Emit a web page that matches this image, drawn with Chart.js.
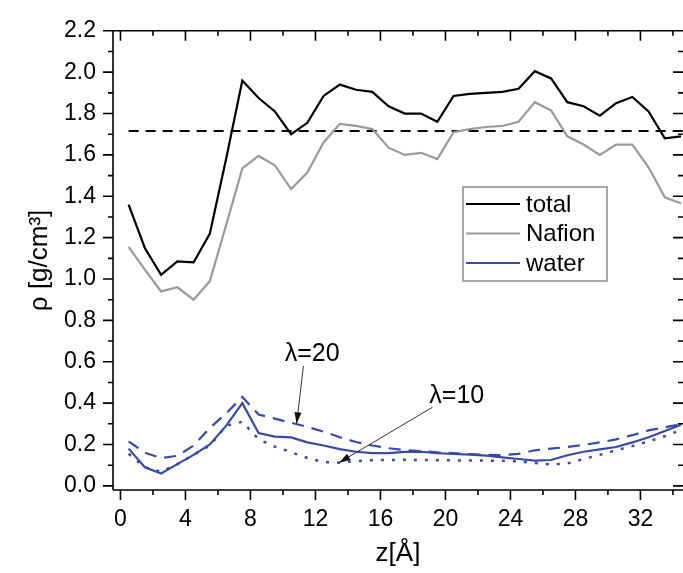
<!DOCTYPE html>
<html>
<head>
<meta charset="utf-8">
<script src="https://cdn.jsdelivr.net/npm/chart.js@4.4.0/dist/chart.umd.min.js"></script>
<style>
  html, body { margin: 0; padding: 0; background: #fff; overflow: hidden; }
  #wrap { width: 683px; height: 573px; }
</style>
</head>
<body>
<div id="wrap"><canvas id="diagramm" width="683" height="573"></canvas></div>
<script>
// z positions of the bins (Å)
const zValues = [0.5, 1.5, 2.5, 3.5, 4.5, 5.5, 6.5, 7.5, 8.5, 9.5, 10.5, 11.5, 12.5, 13.5, 14.5, 15.5, 16.5, 17.5,
                 18.5, 19.5, 20.5, 21.5, 22.5, 23.5, 24.5, 25.5, 26.5, 27.5, 28.5, 29.5, 30.5, 31.5, 32.5, 33.5, 34.5];

// densities in g/cm3
const total   = [1.36, 1.15, 1.02, 1.085, 1.08, 1.22, 1.58, 1.96, 1.875, 1.81, 1.70, 1.755, 1.885, 1.94, 1.915, 1.905, 1.835, 1.80,
                 1.80, 1.76, 1.885, 1.895, 1.90, 1.905, 1.92, 2.005, 1.97, 1.855, 1.835, 1.79, 1.85, 1.88, 1.81, 1.68, 1.69];
const nafion  = [1.155, 1.045, 0.94, 0.96, 0.90, 0.99, 1.26, 1.535, 1.595, 1.55, 1.435, 1.515, 1.66, 1.75, 1.74, 1.725, 1.635, 1.60,
                 1.61, 1.58, 1.71, 1.725, 1.735, 1.74, 1.76, 1.855, 1.815, 1.69, 1.65, 1.60, 1.65, 1.65, 1.54, 1.395, 1.365];
const water   = [0.18, 0.09, 0.06, 0.105, 0.15, 0.20, 0.29, 0.40, 0.255, 0.238, 0.234, 0.21, 0.195, 0.178, 0.165, 0.158, 0.158, 0.164,
                 0.165, 0.158, 0.154, 0.151, 0.146, 0.138, 0.13, 0.122, 0.125, 0.148, 0.165, 0.176, 0.188, 0.21, 0.235, 0.265, 0.295];
const water20 = [0.215, 0.16, 0.135, 0.145, 0.195, 0.28, 0.35, 0.43, 0.345, 0.325, 0.305, 0.285, 0.262, 0.235, 0.212, 0.195, 0.182, 0.173,
                 0.168, 0.162, 0.158, 0.154, 0.15, 0.148, 0.155, 0.172, 0.18, 0.188, 0.198, 0.21, 0.225, 0.245, 0.268, 0.283, 0.298];
const water10 = [0.155, 0.09, 0.068, 0.105, 0.15, 0.195, 0.29, 0.31, 0.225, 0.19, 0.163, 0.135, 0.115, 0.112, 0.12, 0.124, 0.125, 0.126,
                 0.125, 0.124, 0.123, 0.123, 0.122, 0.121, 0.118, 0.11, 0.104, 0.108, 0.13, 0.15, 0.172, 0.192, 0.215, 0.24, 0.27];

// mean density (dashed line)
const meanDensity = 1.715;
const meanRange = [0.5, 34.7];

// axis ticks
const xMajor = [0, 4, 8, 12, 16, 20, 24, 28, 32];
const xMinor = [2, 6, 10, 14, 18, 22, 26, 30, 34];
const yMajor = [0, 0.2, 0.4, 0.6, 0.8, 1.0, 1.2, 1.4, 1.6, 1.8, 2.0, 2.2];
const yMinor = [0.1, 0.3, 0.5, 0.7, 0.9, 1.1, 1.3, 1.5, 1.7, 1.9, 2.1];

const legendLabels = ['total', 'Nafion', 'water'];

// labels with arrows: text position, arrow start, arrow tip (data coords)
const notes = [
    { text: 'λ=20', at: [11.8, 0.635], from: [11.26, 0.58], to: [10.84, 0.30] },
    { text: 'λ=10', at: [20.7, 0.435], from: [19.2, 0.38], to: [13.45, 0.112] }
];

const FONT = '"Liberation Sans", Arial, sans-serif';
const BLUE = '#3a4aa8';

const pts = arr => arr.map((v, i) => ({ x: zValues[i], y: v }));

// Rahmen und Ticks im Origin-Stil
const framePlugin = {
    id: 'frame',
    afterDraw(chart) {
        const { ctx, chartArea: a, scales: { x, y } } = chart;
        ctx.save();
        ctx.strokeStyle = '#000';
        ctx.lineWidth = 1.6;
        ctx.beginPath();
        ctx.moveTo(a.left, a.top); ctx.lineTo(a.right + 2, a.top);
        ctx.moveTo(a.left, a.top); ctx.lineTo(a.left, a.bottom);
        ctx.moveTo(a.left, a.bottom); ctx.lineTo(a.right + 2, a.bottom);
        const xt = (vals, len) => vals.forEach(v => {
            const px = x.getPixelForValue(v);
            ctx.moveTo(px, a.bottom); ctx.lineTo(px, a.bottom + len);
            ctx.moveTo(px, a.top); ctx.lineTo(px, a.top + len);
        });
        const yt = (vals, len) => vals.forEach(v => {
            const py = y.getPixelForValue(v);
            ctx.moveTo(a.left, py); ctx.lineTo(a.left - len, py);
            ctx.moveTo(a.right, py); ctx.lineTo(a.right - len, py);
        });
        xt(xMajor, 10); xt(xMinor, 5);
        yt(yMajor, 10); yt(yMinor, 5);
        ctx.stroke();

        // Legende
        const lx = 463, ly = 187, lw = 144, lh = 94;
        ctx.strokeStyle = '#8a8a8a';
        ctx.lineWidth = 1.5;
        ctx.strokeRect(lx, ly, lw, lh);
        ctx.font = '24px ' + FONT;
        ctx.textBaseline = 'middle';
        ctx.fillStyle = '#000';
        legendLabels.forEach((lab, i) => {
            const ds = chart.data.datasets.find(d => d.label === lab);
            const yy = ly + 17 + i * 29.5;
            ctx.strokeStyle = ds.borderColor;
            ctx.lineWidth = 2;
            ctx.setLineDash([]);
            ctx.beginPath();
            ctx.moveTo(lx + 3, yy); ctx.lineTo(lx + 57, yy);
            ctx.stroke();
            ctx.fillText(lab, lx + 63, yy + 1);
        });

        // Pfeile mit Beschriftung
        ctx.font = '25px ' + FONT;
        notes.forEach(n => {
            const tx = x.getPixelForValue(n.at[0]), ty = y.getPixelForValue(n.at[1]);
            const x0 = x.getPixelForValue(n.from[0]), y0 = y.getPixelForValue(n.from[1]);
            const x1 = x.getPixelForValue(n.to[0]), y1 = y.getPixelForValue(n.to[1]);
            ctx.fillStyle = '#000';
            ctx.textAlign = 'center';
            ctx.fillText(n.text, tx, ty);
            ctx.strokeStyle = '#333';
            ctx.lineWidth = 1;
            ctx.beginPath();
            ctx.moveTo(x0, y0); ctx.lineTo(x1, y1);
            ctx.stroke();
            const ang = Math.atan2(y1 - y0, x1 - x0);
            ctx.fillStyle = '#111';
            ctx.beginPath();
            ctx.moveTo(x1, y1);
            ctx.lineTo(x1 - 12 * Math.cos(ang - 0.3), y1 - 12 * Math.sin(ang - 0.3));
            ctx.lineTo(x1 - 12 * Math.cos(ang + 0.3), y1 - 12 * Math.sin(ang + 0.3));
            ctx.closePath();
            ctx.fill();
        });
        ctx.restore();
    }
};

const ctx = document.getElementById('diagramm').getContext('2d');
new Chart(ctx, {
    type: 'line',
    data: {
        datasets: [
            { label: 'λ=10', data: pts(water10), borderColor: BLUE, borderWidth: 2.5, borderDash: [3, 8] },
            { label: 'λ=20', data: pts(water20), borderColor: BLUE, borderWidth: 2.2, borderDash: [12, 8] },
            { label: 'water', data: pts(water), borderColor: BLUE, borderWidth: 2.2 },
            { label: 'Nafion', data: pts(nafion), borderColor: '#9a9a9a', borderWidth: 2.2 },
            { label: 'total', data: pts(total), borderColor: '#000', borderWidth: 2.2 },
            { label: 'mean', data: meanRange.map(v => ({ x: v, y: meanDensity })), borderColor: '#000', borderWidth: 2, borderDash: [10, 7] }
        ]
    },
    options: {
        responsive: false,
        animation: false,
        devicePixelRatio: 1,
        layout: { padding: { top: 24, right: 0, left: 0, bottom: 0 } },
        elements: { point: { radius: 0 }, line: { tension: 0 } },
        plugins: { legend: { display: false }, tooltip: { enabled: false } },
        scales: {
            x: {
                type: 'linear',
                min: -0.46,
                max: 34.62,
                afterBuildTicks: s => { s.ticks = xMajor.map(v => ({ value: v })); },
                afterFit: s => { s.height = 83; },
                grid: { display: false, drawTicks: false },
                border: { display: false },
                ticks: { color: '#000', font: { family: FONT, size: 23 }, padding: 16, maxRotation: 0,
                         callback: v => String(v) },
                title: { display: true, text: 'z[Å]', color: '#000', font: { family: FONT, size: 26 }, padding: { top: 0, bottom: 4 } }
            },
            y: {
                min: -0.02,
                max: 2.2,
                afterBuildTicks: s => { s.ticks = yMajor.map(v => ({ value: v })); },
                afterFit: s => { s.width = 113; },
                grid: { display: false, drawTicks: false },
                border: { display: false },
                ticks: { color: '#000', font: { family: FONT, size: 23 }, padding: 17,
                         callback: v => v.toFixed(1) },
                title: { display: true, text: 'ρ [g/cm³]', color: '#000', font: { family: FONT, size: 26 }, padding: { top: 24, bottom: 0 } }
            }
        }
    },
    plugins: [framePlugin]
});
</script>
</body>
</html>
